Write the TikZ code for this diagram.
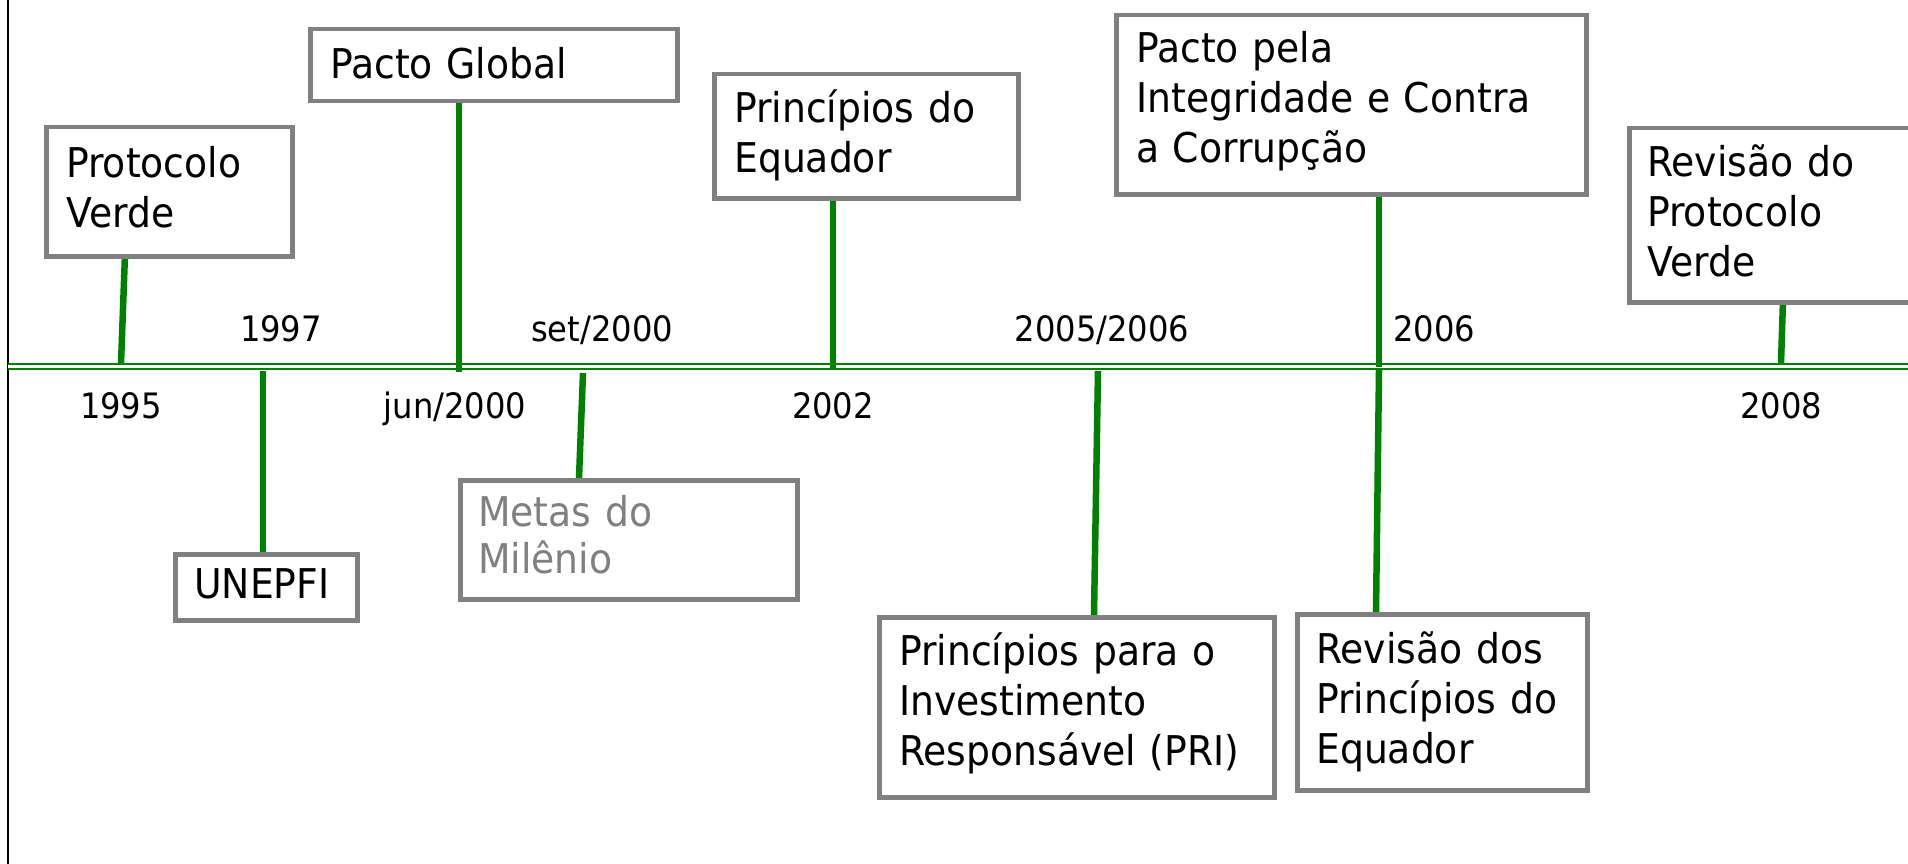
\documentclass[tikz,border=0pt]{standalone}
\usepackage{fontspec}
\setmainfont{DejaVu Sans}[FakeStretch=0.92]
\usetikzlibrary{calc}
\definecolor{tlgreen}{RGB}{0,128,0}
\definecolor{boxgray}{RGB}{128,128,128}
\begin{document}
\begin{tikzpicture}[x=1pt,y=-1pt,
  box/.style={draw=boxgray, line width=4.5pt, fill=white, anchor=north west, inner sep=0pt},
  txt/.style={anchor=base west, inner sep=0pt, align=left, text width=420pt,
    font=\fontsize{41}{50}\selectfont},
  datelbl/.style={anchor=base, inner sep=0pt, font=\fontsize{35}{40}\selectfont},
  conn/.style={draw=tlgreen, line width=6.5pt},
  tl/.style={draw=tlgreen, line width=2pt, double=white, double distance=2.7pt}]
\useasboundingbox (0,0) rectangle (1908,864);
\fill[white] (0,0) rectangle (1908,864);
% left border
\coordinate (lt) at (8,0);
\coordinate (lb) at (8,864);
\draw[line width=2pt] (lt) -- (lb);
% timeline
\coordinate (tls) at (8,366.7);
\coordinate (tle) at (1910,366.7);
\draw[tl] (tls) -- (tle);
% timeline anchor points
\coordinate (t1) at (121,364);
\coordinate (t2) at (459,372);
\coordinate (t3) at (263,371);
\coordinate (t4) at (583,373);
\coordinate (t5) at (833,369);
\coordinate (t6) at (1379,367);
\coordinate (t7) at (1098,371);
\coordinate (t8) at (1379,370);
\coordinate (t9) at (1781,363);
% connectors
\coordinate (c1) at (125,254);
\coordinate (c4) at (579,478);
\coordinate (c7) at (1094,615);
\coordinate (c8) at (1376,612);
\coordinate (c9) at (1783,300);
\draw[conn] (c1) -- (t1);
\draw[conn] (459,99) -- (t2);
\draw[conn] (t3) -- (263,552);
\draw[conn] (t4) -- (c4);
\draw[conn] (833,196) -- (t5);
\draw[conn] (1379,192) -- (t6);
\draw[conn] (t7) -- (c7);
\draw[conn] (t8) -- (c8);
\draw[conn] (c9) -- (t9);
% boxes
\node[box, minimum width=246pt, minimum height=129pt] (pv) at (44,125) {};
\node[box, minimum width=367pt, minimum height=72pt] (pg) at (308,27) {};
\node[box, minimum width=182pt, minimum height=66pt] (un) at (173,552) {};
\node[box, minimum width=337pt, minimum height=119pt] (mm) at (458,478) {};
\node[box, minimum width=304pt, minimum height=124pt] (pe) at (712,72) {};
\node[box, minimum width=470pt, minimum height=179pt] (pi) at (1114,13) {};
\node[box, minimum width=395pt, minimum height=180pt] (pri) at (877,615) {};
\node[box, minimum width=290pt, minimum height=176pt] (rpe) at (1295,612) {};
\node[box, minimum width=333pt, minimum height=174pt] (rpv) at (1627,126) {};
% box texts
\node[txt] (pvt) at (66,177) {Protocolo\\Verde};
\node[txt] (pgt) at (330,79) {Pacto Global};
\node[txt] (unt) at (194,598) {UNEPFI};
\node[txt, text=boxgray, font=\fontsize{41}{47}\selectfont] (mmt) at (478,526) {Metas do\\Milênio};
\node[txt] (pet) at (734,123) {Princípios do\\Equador};
\node[txt] (pit) at (1136,63) {Pacto pela\\Integridade e Contra\\a Corrupção};
\node[txt] (prit) at (899,665) {Princípios para o\\Investimento\\Responsável (PRI)};
\node[txt] (rpet) at (1316,663) {Revisão dos\\Princípios do\\Equador};
\node[txt] (rpvt) at (1647,176) {Revisão do\\Protocolo\\Verde};
% dates
\node[datelbl] (d1995) at (121,418) {1995};
\node[datelbl] (d1997) at (281,341) {1997};
\node[datelbl] (djun) at (455,418) {jun/2000};
\node[datelbl] (dset) at (602,341) {set/2000};
\node[datelbl] (d2002) at (833,418) {2002};
\node[datelbl] (d0506) at (1102,341) {2005/2006};
\node[datelbl] (d2006) at (1434,341) {2006};
\node[datelbl] (d2008) at (1781,418) {2008};
\end{tikzpicture}
\end{document}
